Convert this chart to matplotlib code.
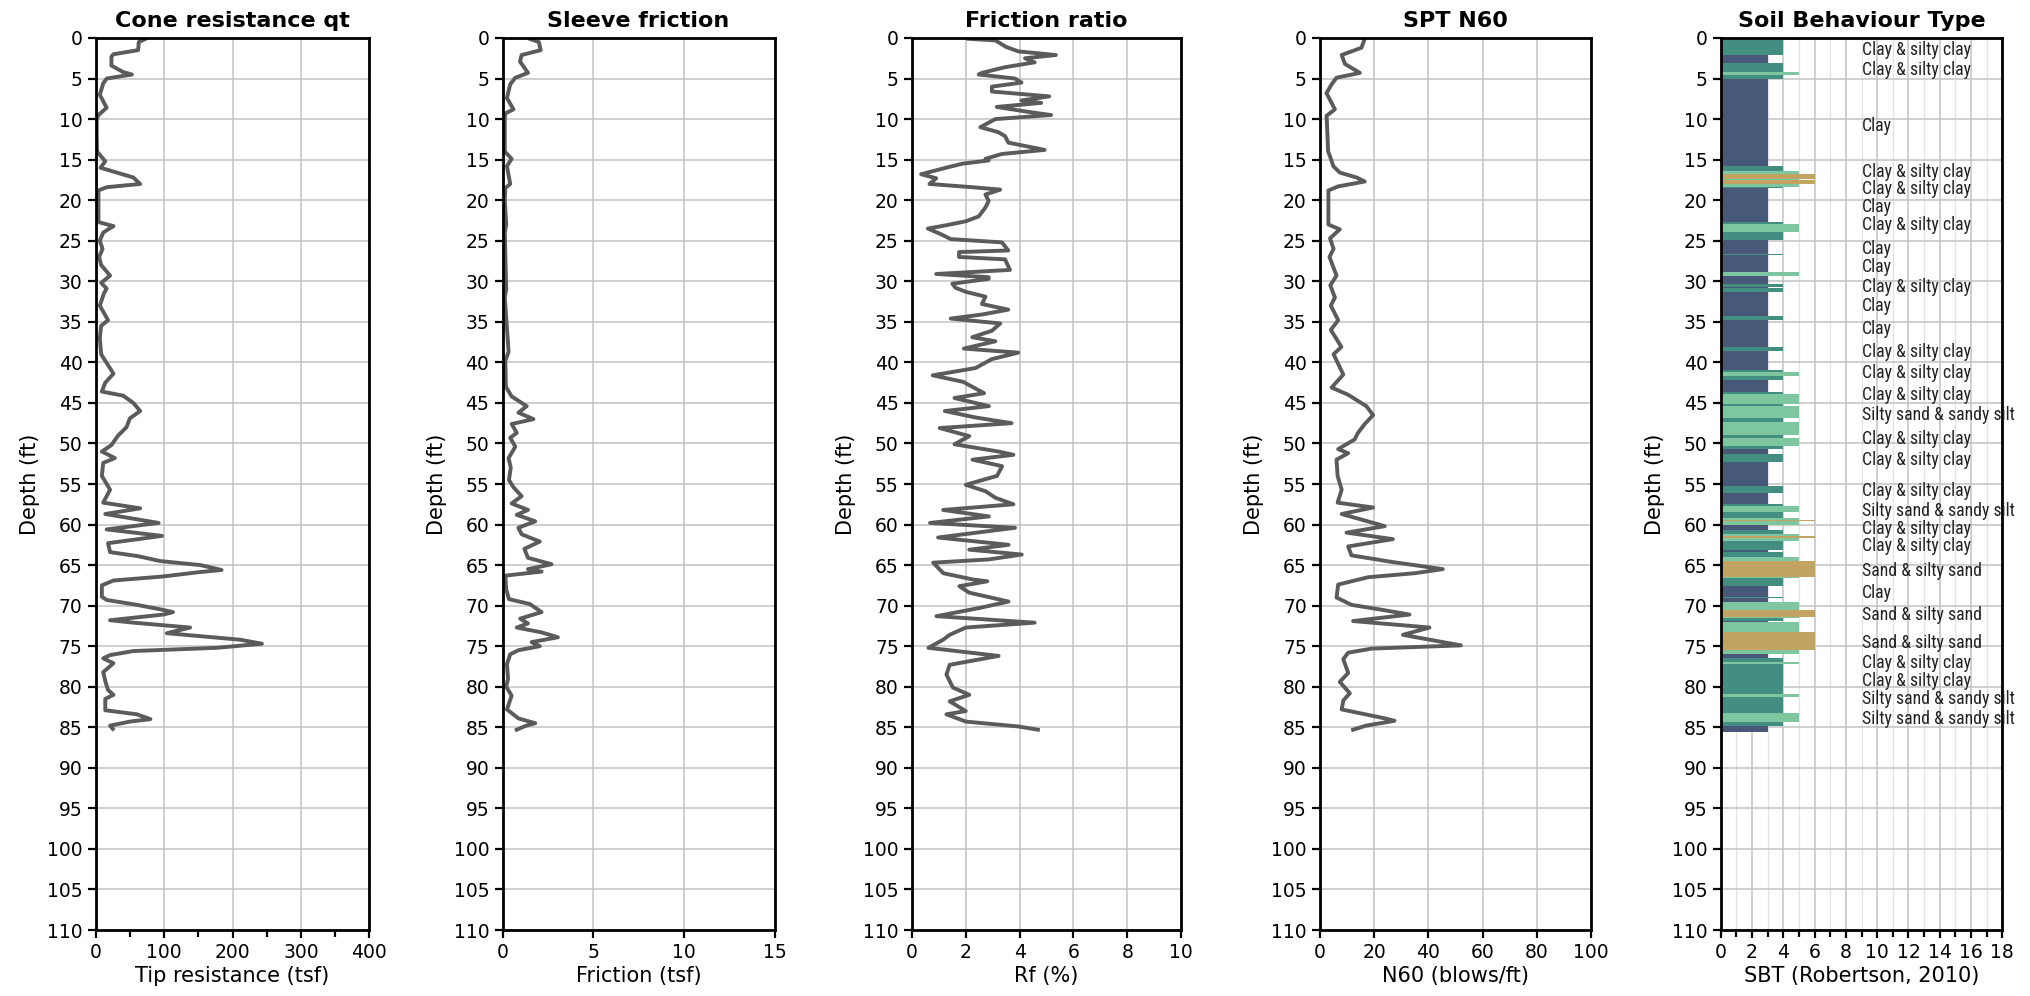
import matplotlib
matplotlib.use('Agg')
import matplotlib.pyplot as plt
from matplotlib.ticker import MultipleLocator
from matplotlib import font_manager

# ---------------- data ----------------
qt_depth = [0.1, 0.5, 1.5, 2.0, 2.3, 3.4, 4.2, 4.5, 5.0, 5.6, 7.0, 8.6, 9.5, 10, 12, 14, 14.4, 15.2, 16,
            16.6, 17.2, 18, 18.4, 18.8, 20, 22.7, 23.2, 23.5, 24, 25, 26, 27, 28, 29.3, 30.2, 30.9, 31.5,
            33, 34.8, 35.5, 37, 39, 41.4, 42.5, 43.6, 44.1, 45, 46, 46.9, 48, 49, 50.2, 51, 51.8, 52.4,
            54, 55.7, 57.3, 58, 58.7, 59.8, 60.6, 61.4, 62.3, 63.4, 63.9, 64.5, 65, 65.6, 65.9, 66.4,
            66.9, 67.5, 68.9, 69.3, 69.9, 70.5, 70.8, 71.1, 71.8, 72.1, 72.7, 73.4, 74.2, 74.7, 75.2,
            75.6, 76.1, 76.5, 77.1, 78.2, 79.3, 80.4, 81.0, 81.5, 82.9, 83.4, 84.0, 84.3, 84.8, 85.2]
qt_value = [73, 63, 62, 26, 23, 23, 40, 53, 16, 11, 6, 16, 4, 1.5, 1.5, 2, 6, 14, 7,
            31, 55, 65, 16, 4, 4, 4, 26, 20, 11, 6, 10, 5, 8, 21, 8, 16, 12,
            6, 18, 8, 6, 8, 26, 14, 9, 40, 55, 65, 50, 45, 33, 23, 9, 28, 11,
            9, 21, 11, 65, 14, 92, 16, 97, 18, 21, 62, 94, 153, 184, 148, 99,
            26, 9, 9, 16, 60, 97, 113, 99, 21, 55, 138, 104, 211, 243, 177,
            55, 21, 11, 26, 11, 14, 18, 26, 14, 14, 60, 80, 50, 21, 25]

fs_depth = [0.1, 0.5, 1.5, 2.1, 2.9, 4.3, 4.9, 5.7, 7.4, 8.8, 9.3, 10, 14, 14.9, 15.8, 18, 18.5, 20, 23,
            24, 31, 32, 38.7, 39.8, 43, 44.2, 45.4, 46.2, 47, 47.6, 48.7, 49.3, 50.4, 51.8, 53, 54.5,
            55.4, 56.5, 57.4, 58.2, 58.8, 59.6, 60.4, 61.2, 62.1, 63, 64.1, 64.9, 65.5, 65.8, 66.3, 68,
            69.2, 69.8, 70.8, 71.6, 72.2, 72.7, 73.3, 73.9, 74.5, 75, 75.5, 76, 77.2, 79, 80, 81.1,
            82.8, 83.9, 84.5, 84.8, 85.3]
fs_value = [1.5, 2.0, 2.1, 1.05, 0.96, 1.4, 0.7, 0.42, 0.24, 0.6, 0.15, 0.12, 0.12, 0.5, 0.24, 0.42, 0.15,
            0.12, 0.2, 0.12, 0.2, 0.12, 0.33, 0.15, 0.18, 0.5, 1.33, 0.87, 1.7, 0.5, 0.78, 0.42, 0.7,
            0.33, 0.45, 0.35, 0.6, 1.05, 0.5, 1.4, 0.78, 1.8, 0.87, 1.05, 2.05, 1.2, 1.4, 2.7, 1.4,
            2.15, 0.15, 0.2, 0.35, 1.5, 2.15, 0.97, 1.4, 0.78, 2.15, 3.05, 1.6, 2.05, 0.87, 0.42,
            0.24, 0.3, 0.2, 0.5, 0.24, 0.87, 1.8, 1.3, 0.78]

rf_depth = [0.1, 0.3, 1.1, 1.65, 2.1, 2.5, 3.0, 3.6, 4.3, 4.5, 5.0, 5.5, 6.0, 6.6, 7.2, 7.7, 8.0, 8.5,
            9.1, 9.5, 10.0, 11.0, 11.6, 12.1, 12.9, 13.8, 14.3, 14.9, 15.1, 15.5, 16.0, 16.8, 17.3,
            18.0, 18.4, 18.7, 19.3, 20.1, 20.9, 22.0, 22.6, 23.1, 23.5, 24.2, 24.8, 25.2, 26.2, 26.4,
            27.0, 27.3, 28.6, 29.1, 29.5, 29.7, 30.3, 30.8, 31.3, 31.9, 32.8, 33.5, 34.1, 34.6, 35.2,
            36.1, 36.9, 37.4, 38.3, 38.8, 39.6, 40.7, 41.6, 42.4, 43.8, 44.4, 45.4, 46.0, 46.8, 47.5,
            48.1, 49.1, 50.1, 51.0, 51.4, 52.0, 52.8, 54.0, 55.1, 55.9, 56.7, 57.5, 58.2, 59.0, 59.8,
            60.4, 61.6, 62.5, 63.1, 63.7, 64.3, 64.7, 66.0, 66.8, 67.0, 67.6, 68.4, 69.5, 70.3, 71.3,
            72.1, 72.7, 73.6, 74.2, 75.2, 76.2, 77.3, 78.5, 80.1, 81.0, 81.8, 83.0, 83.4, 84.3, 84.9,
            85.3]
rf_value = [2.1, 3.1, 3.5, 3.95, 5.35, 4.2, 4.56, 3.46, 2.6, 2.48, 3.83, 4.07, 2.97, 2.97, 5.1, 4.07, 4.8,
            3.15, 4.3, 5.17, 3.1, 2.54, 3.2, 3.46, 3.58, 4.93, 3.34, 2.73, 2.85, 1.87, 1.26, 0.34, 0.9,
            0.65, 2.24, 3.28, 2.73, 2.85, 2.73, 2.48, 2.0, 1.26, 0.59, 1.08, 1.44, 3.34, 3.58, 1.75,
            1.75, 3.46, 3.64, 0.9, 2.85, 2.85, 1.5, 1.62, 2.0, 2.73, 2.6, 3.58, 2.6, 1.44, 3.28,
            2.97, 2.24, 3.1, 1.93, 3.95, 2.97, 2.36, 0.77, 1.9, 2.68, 1.58, 2.86, 1.22, 2.37, 3.7,
            1.03, 2.13, 1.58, 3.22, 3.77, 2.25, 3.35, 3.16, 2.0, 2.74, 3.1, 3.77, 1.16, 2.86, 0.67,
            3.83, 0.97, 3.59, 2.13, 4.08, 2.86, 0.79, 1.16, 2.3, 2.8, 1.76, 2.13, 3.59, 2.49, 0.91,
            4.56, 2.0, 1.4, 1.16, 0.61, 3.22, 1.4, 1.28, 1.52, 2.13, 1.4, 2.0, 1.28, 2.0, 3.95,
            4.68]

n60_depth = [0.1, 1.2, 2.1, 3.2, 4.3, 4.9, 5.7, 6.8, 8.8, 9.6, 10, 14, 14.6, 15.8, 16.6, 17.2, 17.7,
             18.3, 18.8, 23, 23.6, 24.7, 26, 27, 29.3, 30.5, 32, 33, 34.8, 36, 38.1, 39, 41.5, 43.1,
             44, 45.4, 46.5, 47.6, 48.7, 49.5, 50.7, 51.2, 52, 54, 55.7, 57.3, 57.9, 58.7, 60.2, 61,
             61.8, 62.7, 63.8, 64.6, 65.5, 66, 66.5, 67.4, 69, 69.9, 70.5, 71.1, 71.9, 72.7, 73.6,
             74.2, 74.9, 75.3, 75.8, 76.6, 78.3, 79.4, 80.8, 81.7, 82.8, 83.9, 84.2, 84.8, 85.3]
n60_value = [16.5, 15.3, 8, 9.2, 14.7, 6.1, 4.3, 2.4, 5.5, 2.4, 2.5, 3, 3.7, 4.9, 7.3, 13.5, 16.5,
             6.7, 3.1, 3.1, 7.3, 3.7, 5, 3.5, 6.1, 3.8, 5.5, 4, 6.7, 4, 7.9, 5, 8.6, 4.3,
             10.4, 17.1, 19.6, 16.5, 14, 12.8, 6.7, 10.4, 6.1, 6.5, 8, 6.5, 19.6, 8, 23.9, 9.8,
             26.9, 10.4, 11.6, 26.3, 45.3, 35, 17.7, 6.7, 6.1, 11.6, 22.6, 33, 12.2, 40.4, 30.6,
             40.4, 52, 19, 10.4, 8.6, 10.4, 7.3, 11, 8.6, 8, 23.9, 27.5, 17, 12.2]

# Soil behaviour type layers (Robertson 2010 zones)
layer_top = [0, 0.2, 2.1, 3.08, 4.15, 4.56, 5.06, 15.8, 16.36, 16.8, 17.4, 17.5, 18.0, 18.34, 18.5, 22.7,
             22.9, 23.88, 24.87, 26.6, 26.8, 28.8, 29.3, 30.3, 30.7, 30.8, 31.3, 34.3, 34.8, 38.1, 38.6,
             41.0, 41.2, 41.7, 42.2, 43.6, 43.9, 45.1, 45.4, 46.9, 47.4, 48.96, 49.3, 50.27, 50.7, 51.3,
             52.25, 55.2, 56.1, 57.5, 57.7, 58.5, 59.15, 59.4, 59.6, 60.1, 60.7, 61.2, 61.4, 61.6, 62.0,
             63.1, 63.4, 63.95, 64.45, 66.5, 66.6, 67.6, 68.9, 69.1, 69.5, 70.5, 71.4, 71.57, 71.9, 72.0,
             73.3, 75.46, 75.95, 76.4, 76.9, 77.25, 80.9, 81.3, 83.2, 84.3, 84.8]
layer_bottom = layer_top[1:] + [85.6]
layer_zone = [5, 4, 3, 4, 5, 4, 3, 4, 5, 6, 5, 6, 5, 4, 3, 4,
              5, 4, 3, 4, 3, 5, 3, 4, 3, 4, 3, 4, 3, 4, 3,
              4, 5, 4, 3, 4, 5, 4, 5, 4, 5, 4, 5, 4, 3, 4,
              3, 4, 3, 4, 5, 4, 5, 6, 5, 3, 4, 5, 6, 5, 4,
              3, 4, 5, 6, 5, 4, 3, 4, 3, 5, 6, 5, 4, 3, 5,
              6, 5, 3, 4, 5, 4, 5, 4, 5, 4, 3]
zone_colors = {3: '#485878', 4: '#428f81', 5: '#7dc6a0', 6: '#c2a362'}

sbt_label_depth = [1.5, 3.95, 10.85, 16.5, 18.66, 20.9, 23.1, 26.06, 28.3, 30.7, 33.1, 35.9, 38.7, 41.35,
                   44.0, 46.5, 49.45, 52.1, 55.9, 58.3, 60.6, 62.7, 65.7, 68.5, 71.2, 74.6, 77.1, 79.3,
                   81.55, 84.0]
sbt_label_text = ["Clay & silty clay", "Clay & silty clay", "Clay", "Clay & silty clay",
                  "Clay & silty clay", "Clay", "Clay & silty clay", "Clay", "Clay",
                  "Clay & silty clay", "Clay", "Clay", "Clay & silty clay", "Clay & silty clay",
                  "Clay & silty clay", "Silty sand & sandy silt", "Clay & silty clay",
                  "Clay & silty clay", "Clay & silty clay", "Silty sand & sandy silt",
                  "Clay & silty clay", "Clay & silty clay", "Sand & silty sand", "Clay",
                  "Sand & silty sand", "Sand & silty sand", "Clay & silty clay", "Clay & silty clay",
                  "Silty sand & sandy silt", "Silty sand & sandy silt"]

titles = ["Cone resistance qt", "Sleeve friction", "Friction ratio", "SPT N60", "Soil Behaviour Type"]
xlabels = ["Tip resistance (tsf)", "Friction (tsf)", "Rf (%)", "N60 (blows/ft)", "SBT (Robertson, 2010)"]

# pick a narrow font for the SBT labels
available = {f.name for f in font_manager.fontManager.ttflist}
narrow = None
for cand in ['Liberation Sans Narrow', 'DejaVu Sans Condensed', 'Roboto Condensed', 'Open Sans Condensed', 'Roboto']:
    if cand in available:
        narrow = cand
        break
label_family = [narrow, 'DejaVu Sans'] if narrow else ['DejaVu Sans']
label_stretch = 'condensed' if narrow == 'DejaVu Sans Condensed' else 'normal'

# ---------------- figure ----------------
W, H = 2031, 996
plt.rcParams['font.family'] = ['DejaVu Sans']
fig = plt.figure(figsize=(W / 100, H / 100), dpi=100)

ax_px = [(95.7, 273.6), (502.6, 272), (912, 269), (1320, 271), (1720.7, 281.6)]
top_px, bot_px = 38, 930
axes = [fig.add_axes([l / W, (H - bot_px) / H, w / W, (bot_px - top_px) / H]) for l, w in ax_px]

line_color = '#5b5b5b'
specs = [((0, 400), 100, 50), ((0, 15), 5, None), ((0, 10), 2, None), ((0, 100), 20, None), ((0, 18), 2, 1)]

for i, ax in enumerate(axes):
    xlim, major, minor = specs[i]
    ax.set_xlim(*xlim)
    ax.set_ylim(110, 0)
    ax.yaxis.set_major_locator(MultipleLocator(5))
    ax.xaxis.set_major_locator(MultipleLocator(major))
    if minor:
        ax.xaxis.set_minor_locator(MultipleLocator(minor))
    ax.grid(True, which='major', color='#c2c2c2', lw=1.1)
    if i == 4:
        ax.grid(True, which='minor', axis='x', color='#e3e3e3', lw=0.9)
    ax.set_axisbelow(True)
    ax.set_title(titles[i], fontsize=16, fontweight='bold', pad=8)
    ax.set_xlabel(xlabels[i], fontsize=15, labelpad=3)
    ax.set_ylabel('Depth (ft)', fontsize=15, labelpad=5)
    for s in ax.spines.values():
        s.set_linewidth(2)
    ax.tick_params(which='both', direction='out', width=1.6, labelsize=13.5, color='black')
    ax.tick_params(which='major', length=6)
    ax.tick_params(which='minor', length=5)

axes[0].plot(qt_value, qt_depth, color=line_color, lw=2.8)
axes[1].plot(fs_value, fs_depth, color=line_color, lw=2.8)
axes[2].plot(rf_value, rf_depth, color=line_color, lw=2.8)
axes[3].plot(n60_value, n60_depth, color=line_color, lw=2.8)

ax = axes[4]
for t, b, z in zip(layer_top, layer_bottom, layer_zone):
    ax.barh((t + b) / 2, z, height=(b - t), left=0, color=zone_colors[z], edgecolor='none', zorder=2)
for d, txt in zip(sbt_label_depth, sbt_label_text):
    ax.text(9, d, txt, fontsize=12.8, family=label_family, stretch=label_stretch,
            va='center', ha='left', color='#222222', clip_on=False, zorder=3)

fig.savefig('out.png', dpi=100)
